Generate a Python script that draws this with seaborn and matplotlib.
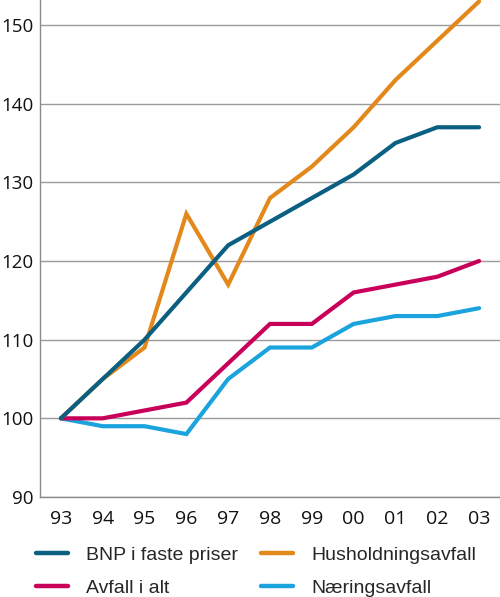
import matplotlib
matplotlib.use("Agg")
import matplotlib.pyplot as plt
import seaborn as sns
import pandas as pd
from matplotlib.lines import Line2D

# -----------------------------
# Data (index, 1993 = 100)
# -----------------------------
years = ['93', '94', '95', '96', '97', '98', '99', '00', '01', '02', '03']
bnp = [100, 105, 110, 116, 122, 125, 128, 131, 135, 137, 137]
husholdning = [100, 105, 109, 126, 117, 128, 132, 137, 143, 148, 153]
avfall_alt = [100, 100, 101, 102, 107, 112, 112, 116, 117, 118, 120]
naering = [100, 99, 99, 98, 105, 109, 109, 112, 113, 113, 114]

colors = {'BNP i faste priser': '#0b5f80',
          'Husholdningsavfall': '#e3891c',
          'Avfall i alt': '#c8005a',
          'Næringsavfall': '#1ba3de'}

df = pd.concat([
    pd.DataFrame({'year': years, 'value': naering, 'series': 'Næringsavfall'}),
    pd.DataFrame({'year': years, 'value': avfall_alt, 'series': 'Avfall i alt'}),
    pd.DataFrame({'year': years, 'value': husholdning, 'series': 'Husholdningsavfall'}),
    pd.DataFrame({'year': years, 'value': bnp, 'series': 'BNP i faste priser'}),
])

sns.set_style('white')
plt.rcParams['font.family'] = ['Open Sans', 'DejaVu Sans']

fig = plt.figure(figsize=(5, 5.97), dpi=100)
ax = fig.add_axes([0.08, 1 - 497 / 597, 0.92, 497 / 597])

# draw order: lightest underneath, BNP on top
for name in ['Næringsavfall', 'Avfall i alt', 'Husholdningsavfall', 'BNP i faste priser']:
    sub = df[df['series'] == name]
    sns.lineplot(data=sub, x='year', y='value', color=colors[name], lw=3,
                 sort=False, ax=ax, legend=False, clip_on=False,
                 solid_capstyle='round', solid_joinstyle='miter')

ax.set_xlim(-0.5, 10.5)
ax.set_ylim(90, 150 + 25 / (472 / 60))
ax.set_yticks([90, 100, 110, 120, 130, 140, 150])
ax.yaxis.grid(True, color='#9a9a9a', lw=1)
ax.set_axisbelow(True)
ax.set_xlabel('')
ax.set_ylabel('')

for s in ['top', 'right']:
    ax.spines[s].set_visible(False)
for s in ['left', 'bottom']:
    ax.spines[s].set_color('#8a8a8a')
    ax.spines[s].set_linewidth(1)

ax.set_xticks([i + 0.5 for i in range(-1, 11)], minor=True)
ax.tick_params(axis='x', which='minor', direction='in', length=11, color='#8a8a8a', width=1)
ax.tick_params(axis='x', which='major', length=0, pad=9, labelsize=14, colors='#111111')
ax.tick_params(axis='y', length=0, pad=4.5, labelsize=13.5, colors='#111111')

labels = ['BNP i faste priser', 'Avfall i alt', 'Husholdningsavfall', 'Næringsavfall']
handles = [Line2D([0], [0], color=colors[n], lw=3.2, solid_capstyle='round') for n in labels]
fig.legend(handles, labels, loc='upper left', bbox_to_anchor=(36 / 500, 1 - 546 / 597),
           ncol=2, frameon=False, handlelength=1.64, handletextpad=0.93,
           columnspacing=1.2, labelspacing=0.8, borderpad=0, borderaxespad=0,
           prop={'family': 'Liberation Sans', 'size': 14})

fig.savefig('out.png', dpi=100)
